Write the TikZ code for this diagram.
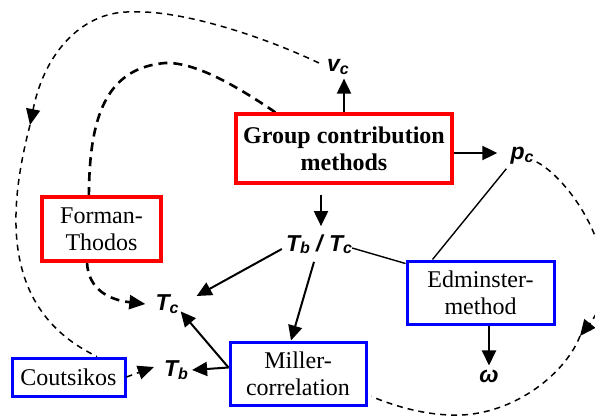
\documentclass[tikz,border=0pt]{standalone}
\usepackage{fontspec}
\setmainfont{Liberation Serif}
\newfontfamily\symfont{Liberation Sans}
\usetikzlibrary{arrows.meta,backgrounds}
\newcommand{\boxfont}{\fontsize{24}{27}\selectfont}
\newcommand{\symset}{\symfont\bfseries\itshape\fontsize{23}{23}\selectfont}
\newcommand{\subs}[1]{\raisebox{-2.5pt}{\fontsize{16}{16}\selectfont #1}}
\newcommand{\symb}[2]{{\symset #1\subs{#2}}}
\tikzset{
  redbox/.style={draw=red, line width=3.5pt, fill=white, inner sep=0pt, align=center, font=\boxfont},
  bluebox/.style={draw=blue, line width=3pt, fill=white, inner sep=0pt, align=center, font=\boxfont},
  symnode/.style={inner xsep=4pt, inner ysep=4pt},
  arr/.style={line width=2pt, -{Triangle[length=15pt,width=14pt]}},
  thinline/.style={line width=1.4pt},
  outerdash/.style={line width=1.5pt, dash pattern=on 6pt off 5pt},
  innerdash/.style={line width=2.6pt, dash pattern=on 9pt off 6pt},
  dtip/.style={-{Triangle[length=16pt,width=14pt]}}
}
\begin{document}
\begin{tikzpicture}[x=1pt,y=-1pt]
\useasboundingbox (0,0) rectangle (595,417);
% boxes
\node[redbox, minimum width=216pt, minimum height=69pt, font=\boxfont\bfseries] (group) at (344,148.5) {Group contribution\\methods};
\node[redbox, minimum width=119pt, minimum height=64pt] (forman) at (101.5,229) {Forman-\\Thodos};
\node[bluebox, minimum width=147pt, minimum height=63pt] (edm) at (480.5,292.5) {Edminster-\\method};
\node[bluebox, minimum width=136pt, minimum height=63pt] (miller) at (298,373.5) {Miller-\\correlation};
\node[bluebox, minimum width=113pt, minimum height=38pt] (cout) at (68.5,377) {Coutsikos};
% symbols
\node[symnode] (vc) at (338,67) {\symb{v}{c}};
\node[symnode] (pc) at (522,156) {\symb{p}{c}};
\node[symnode, inner ysep=8pt] (TbTc) at (319,244) {{\symset T\subs{b} / T\subs{c}}};
\node[symnode] (Tc) at (167,304) {\symb{T}{c}};
\node[symnode] (Tb) at (176,370) {\symb{T}{b}};
\node[symnode] (omega) at (489,376) {{\symset ω}};
% points where the long dashed connectors carry their arrowheads
\coordinate (ma) at (30,125);
\coordinate (mb) at (580,336);
% solid connectors
\draw[arr] (group.north) -- (group.north |- vc.south);
\draw[arr, shorten >=9pt] ([yshift=-4.5pt]group.east) -- ([yshift=-4.5pt]group.east -| pc.west);
\draw[arr, shorten <=10pt] ([xshift=2pt]group.south -| TbTc.north) -- ([xshift=2pt]TbTc.north);
\draw[arr] ([shift={(0,5)}]TbTc.west) -- ([shift={(14,-8)}]Tc.east);
\draw[arr] ([shift={(-5,0)}]TbTc.south) -- ([shift={(-7,0)}]miller.north);
\draw[thinline] ([shift={(-4,4)}]TbTc.east) -- ([shift={(0,4)}]edm.north west);
\draw[thinline] (pc.south west) -- ([shift={(27,0)}]edm.north west);
\draw[arr] (edm.south -| omega.north) -- (omega.north);
\draw[arr] ([shift={(0,-6)}]miller.west) -- ([shift={(-2,-6)}]Tc.south east);
\draw[arr] ([shift={(0,-6)}]miller.west) -- (Tb.east);
\draw[outerdash, dtip] (cout.east) -- ([shift={(-6,-3)}]Tb.west);
% dashed curves behind the boxes
\begin{pgfonlayer}{background}
\draw[innerdash, dtip] ([shift={(41,0)}]group.north west) .. controls (235,85) and (195,62) .. (165,63) .. controls (110,68) and (90,110) .. (89,190) -- (87,262) .. controls (88,290) and (110,300) .. ([shift={(-6,0)}]Tc.west);
\draw[outerdash, dtip] ([shift={(-4,-4)}]vc.west) .. controls (260,35) and (180,10) .. (133,12) .. controls (85,10) and (45,50) .. (ma);
\draw[outerdash] (ma) .. controls (8,210) and (0,310) .. ([shift={(28.5,0)}]cout.north);
\draw[outerdash, dtip] ([shift={(-1,6)}]pc.east) .. controls (572,180) and (632,270) .. (mb);
\draw[outerdash] (mb) .. controls (565,375) and (510,418) .. (450,415) .. controls (420,414) and (392,405) .. ([shift={(4,-10)}]miller.south east);
\end{pgfonlayer}
\end{tikzpicture}
\end{document}
